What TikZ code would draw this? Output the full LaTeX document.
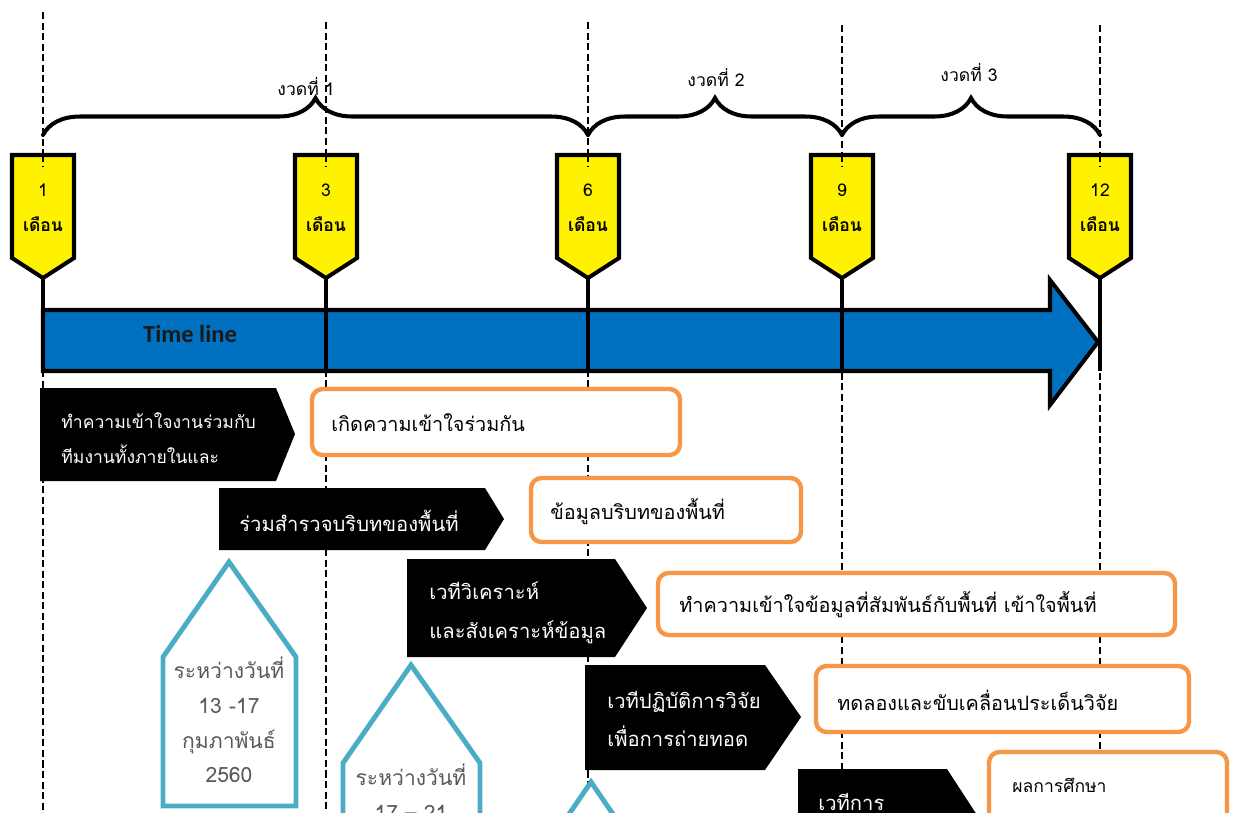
\documentclass[tikz,border=0pt]{standalone}
\usepackage{fontspec}
\setmainfont[Script=Thai]{Loma}
\newfontfamily\tlfont{Carlito}
\usetikzlibrary{decorations.pathreplacing}

\definecolor{tlblue}{RGB}{0,112,192}
\definecolor{hblue}{RGB}{75,172,198}
\definecolor{obox}{RGB}{247,150,70}
\definecolor{htext}{RGB}{89,89,89}

\begin{document}
\begin{tikzpicture}[
        x=0.02cm, y=-0.02cm,
        guide/.style={black, line width=0.7pt, dash pattern=on 4pt off 2pt},
        mnode/.style={draw=black, fill=yellow, line width=2.3pt, line join=miter},
        mtext/.style={align=center, inner sep=0pt, font=\fontsize{10}{19.8}\selectfont},
        tick/.style={black, line width=2.4pt},
        period/.style={decorate, decoration={brace, amplitude=0.74cm}, line width=2.3pt, line cap=round},
        plabel/.style={inner sep=0pt, font=\fontsize{10}{12}\selectfont},
        task/.style={fill=black},
        ttext/.style={text=white, align=left, anchor=west, inner sep=0pt, font=\fontsize{11.5}{22}\selectfont},
        result/.style={draw=obox, fill=white, line width=2.5pt, rounded corners=6pt},
        rtext/.style={anchor=west, inner sep=0pt, font=\fontsize{11.3}{14}\selectfont},
        house/.style={draw=hblue, fill=white, line width=2.8pt, line join=miter},
        htxt/.style={text=htext, align=center, inner sep=0pt, font=\fontsize{12}{19.8}\selectfont},
      ]
        \useasboundingbox (0,0) rectangle (1240,812);
        \clip (0,0) rectangle (1240,812);

        % month guides
        \foreach \x/\top in {43/12, 326/22, 588/22, 842/25, 1100/25}
          \draw[guide] (\x,\top) -- (\x,812);

        % periods
        \draw[period] (43,135)  -- (588,135);
        \draw[period] (588,135) -- (842,135);
        \draw[period] (842,135) -- (1100,135);
        \node[plabel] (p1) at (306,87) {งวดที่ 1};
        \node[plabel] (p2) at (716,78) {งวดที่ 2};
        \node[plabel] (p3) at (969,73) {งวดที่ 3};

        % month markers
        \foreach \x/\n in {43/1, 326/3, 588/6, 842/9, 1100/12} {
          \draw[mnode] (\x-31,155) -- (\x+31,155) -- (\x+31,258) -- (\x,278) -- (\x-31,258) -- cycle;
          \draw[guide] (\x,155) -- (\x,167);
          \node[mtext] (m\n) at (\x,208) {\n\\\textbf{เดือน}};
          \coordinate (t\n) at (\x,278);
          \coordinate (b\n) at (\x,371);
        }

        % time line arrow
        \filldraw[fill=tlblue, line width=2.3pt, line join=miter]
          (43,310) -- (1050,310) -- (1050,280) -- (1098,342) -- (1050,405) -- (1050,371) -- (43,371) -- cycle;
        \node[font=\tlfont\bfseries\fontsize{14}{16}\selectfont, text=black!90] (tl) at (190,334) {Time line};
        \foreach \n in {1,3,6,9,12}
          \draw[tick] (t\n) -- (b\n);

        % activities
        \fill[task] (40,388) -- (276,388) -- (295,434) -- (276,481) -- (40,481) -- cycle;
        \node[ttext, font=\fontsize{10}{19.8}\selectfont] (a1) at (61,438) {ทำความเข้าใจงานร่วมกับ\\ทีมงานทั้งภายในและ};
        \fill[task] (219,488) -- (485,488) -- (504,519) -- (485,550) -- (219,550) -- cycle;
        \node[ttext, anchor=center] (a2) at (349,521) {ร่วมสำรวจบริบทของพื้นที่};
        \fill[task] (407,559) -- (615,559) -- (647,608) -- (615,657) -- (407,657) -- cycle;
        \node[ttext] (a3) at (429,613) {เวทีวิเคราะห์\\และสังเคราะห์ข้อมูล};
        \fill[task] (585,665) -- (765,665) -- (801,717) -- (765,770) -- (585,770) -- cycle;
        \node[ttext] (a4) at (607,719) {เวทีปฏิบัติการวิจัย\\เพื่อการถ่ายทอด};
        \fill[task] (798,769) -- (947,769) -- (990,835) -- (947,900) -- (798,900) -- cycle;
        \node[ttext] (a5) at (818,802) {เวทีการ};

        % results
        \draw[result] (312,389) rectangle (680,455);
        \node[rtext] (r1) at (331,423) {เกิดความเข้าใจร่วมกัน};
        \draw[result] (531,478) rectangle (801,542);
        \node[rtext] (r2) at (550,512) {ข้อมูลบริบทของพื้นที่};
        \draw[result] (658,573) rectangle (1175,635);
        \node[rtext] (r3) at (679,605) {ทำความเข้าใจข้อมูลที่สัมพันธ์กับพื้นที่ เข้าใจพื้นที่};
        \draw[result] (816,666) rectangle (1189,732);
        \node[rtext] (r4) at (837,700) {ทดลองและขับเคลื่อนประเด็นวิจัย};
        \draw[result] (989,752) rectangle (1227,880);
        \node[rtext, font=\fontsize{10}{12}\selectfont] (r5) at (1012,785) {ผลการศึกษา};

        % dates
        \draw[house] (163,806) -- (163,657) -- (229,562) -- (296,657) -- (296,806) -- cycle;
        \node[htxt] (d1) at (229,720) {ระหว่างวันที่\\13 -17\\กุมภาพันธ์\\2560};
        \draw[house] (343,900) -- (343,763) -- (411,665) -- (480,763) -- (480,900);
        \node[htxt] (d2) at (411,792) {ระหว่างวันที่\\17 – 21};
        \draw[house] (524,900) -- (524,880) -- (591,782) -- (658,880) -- (658,900);
      \end{tikzpicture}
\end{document}
